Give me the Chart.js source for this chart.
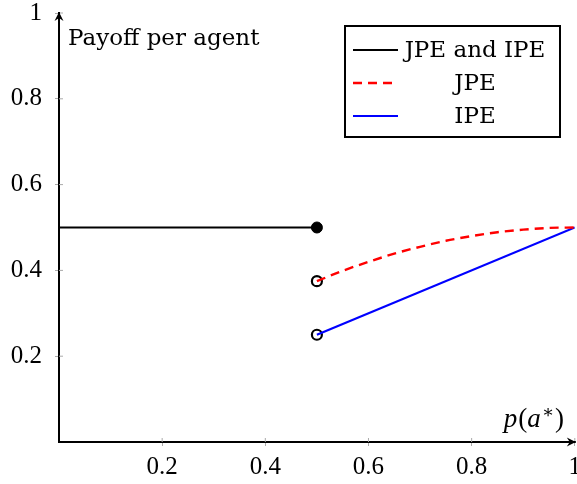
<!DOCTYPE html>
<html>
<head>
<meta charset="utf-8">
<script src="https://cdn.jsdelivr.net/npm/chart.js@4"></script>
<style>
  html, body { margin: 0; background: #fff; overflow: hidden; }
</style>
</head>
<body>
<canvas id="myChart" width="582" height="484"></canvas>
<script>
// data
const bothX = [0, 0.5]
const bothY = [0.5, 0.5]
const jpeX = [0.5, 0.55, 0.6, 0.65, 0.7, 0.75, 0.8, 0.85, 0.9, 0.95, 1]
const jpeY = [0.375, 0.399, 0.42, 0.439, 0.455, 0.469, 0.48, 0.489, 0.495, 0.499, 0.5]
const ipeX = [0.5, 1]
const ipeY = [0.25, 0.5]
const filledDot = [{ x: 0.5, y: 0.5 }]
const openDots = [{ x: 0.5, y: 0.375 }, { x: 0.5, y: 0.25 }]
const xTicks = [0.2, 0.4, 0.6, 0.8, 1]
const yTicks = [0.2, 0.4, 0.6, 0.8, 1]

const legendLabels = ['JPE and IPE', 'JPE', 'IPE']
const yTitle = 'Payoff per agent'

const toPoints = (xs, ys) => xs.map((x, i) => ({ x: x, y: ys[i] }))

const tickFont = { family: 'Liberation Serif', size: 25 }
const textFont = '23px "DejaVu Serif"'

// arrows, axis titles and the boxed legend
const extras = {
  id: 'extras',
  afterDraw(chart) {
    const ctx = chart.ctx
    const a = chart.chartArea
    ctx.save()

    // tick marks crossing into the plot
    ctx.strokeStyle = '#aaa'
    ctx.lineWidth = 1
    xTicks.forEach(v => {
      const px = chart.scales.x.getPixelForValue(v)
      ctx.beginPath()
      ctx.moveTo(px, a.bottom)
      ctx.lineTo(px, a.bottom - 4)
      ctx.stroke()
    })
    yTicks.forEach(v => {
      const py = chart.scales.y.getPixelForValue(v)
      ctx.beginPath()
      ctx.moveTo(a.left, py)
      ctx.lineTo(a.left + 4, py)
      ctx.stroke()
    })
    ctx.fillStyle = '#000'
    ctx.strokeStyle = '#000'
    ctx.lineWidth = 2

    // y axis arrow
    ctx.beginPath()
    ctx.moveTo(a.left, a.top + 2)
    ctx.lineTo(a.left, a.top - 1)
    ctx.stroke()
    ctx.beginPath()
    ctx.moveTo(a.left, a.top - 1)
    ctx.lineTo(a.left - 4.5, a.top + 8)
    ctx.lineTo(a.left, a.top + 5)
    ctx.lineTo(a.left + 4.5, a.top + 8)
    ctx.closePath()
    ctx.fill()

    // x axis arrow
    ctx.beginPath()
    ctx.moveTo(a.right - 2, a.bottom)
    ctx.lineTo(a.right + 1, a.bottom)
    ctx.stroke()
    ctx.beginPath()
    ctx.moveTo(a.right + 1, a.bottom)
    ctx.lineTo(a.right - 8, a.bottom - 4.5)
    ctx.lineTo(a.right - 5, a.bottom)
    ctx.lineTo(a.right - 8, a.bottom + 4.5)
    ctx.closePath()
    ctx.fill()

    // titles
    ctx.font = textFont
    ctx.textAlign = 'left'
    ctx.textBaseline = 'alphabetic'
    ctx.fillText(yTitle, a.left + 9, a.top + 32)

    // p(a*) with raised asterisk
    const base = a.bottom - 15
    let x = a.right - 71
    ctx.font = 'italic 27px "Liberation Serif"'
    ctx.fillText('p', x, base)
    x += ctx.measureText('p').width + 1
    ctx.font = '27px "Liberation Serif"'
    ctx.fillText('(', x, base)
    x += ctx.measureText('(').width
    ctx.font = 'italic 27px "Liberation Serif"'
    ctx.fillText('a', x, base)
    x += ctx.measureText('a').width + 1
    ctx.font = '18px "DejaVu Serif"'
    ctx.fillText('\u2217', x, base - 9)
    x += ctx.measureText('\u2217').width + 1
    ctx.font = '27px "Liberation Serif"'
    ctx.fillText(')', x, base)

    // legend box
    const bx = 345, by = 26, bw = 215, bh = 111
    ctx.lineWidth = 2
    ctx.strokeRect(bx, by, bw, bh)
    const rows = [50, 83, 116]
    chart.data.datasets.slice(0, 3).forEach((ds, i) => {
      ctx.beginPath()
      ctx.strokeStyle = ds.borderColor
      ctx.lineWidth = ds.borderWidth
      ctx.setLineDash(ds.borderDash || [])
      ctx.moveTo(bx + 8, rows[i])
      ctx.lineTo(bx + 53, rows[i])
      ctx.stroke()
      ctx.setLineDash([])
      ctx.fillStyle = '#000'
      ctx.font = textFont
      ctx.textAlign = 'center'
      ctx.textBaseline = 'middle'
      ctx.fillText(legendLabels[i], 475, rows[i] + 1)
    })
    ctx.restore()
  }
}

const ctx = document.getElementById('myChart').getContext('2d')
const myChart = new Chart(ctx, {
  type: 'scatter',
  data: {
    datasets: [
      {
        label: legendLabels[0],
        data: toPoints(bothX, bothY),
        showLine: true,
        borderColor: '#000',
        borderWidth: 2.2,
        pointRadius: 0
      },
      {
        label: legendLabels[1],
        data: toPoints(jpeX, jpeY),
        showLine: true,
        borderColor: '#ff0000',
        borderWidth: 2.4,
        borderDash: [9, 6],
        pointRadius: 0,
        cubicInterpolationMode: 'monotone'
      },
      {
        label: legendLabels[2],
        data: toPoints(ipeX, ipeY),
        showLine: true,
        borderColor: '#0000ff',
        borderWidth: 2.2,
        pointRadius: 0
      },
      {
        label: 'filled',
        data: filledDot,
        pointRadius: 5.5,
        pointBackgroundColor: '#000',
        pointBorderColor: '#000',
        pointBorderWidth: 1
      },
      {
        label: 'open',
        data: openDots,
        pointRadius: 5,
        pointBackgroundColor: '#fff',
        pointBorderColor: '#000',
        pointBorderWidth: 2.2
      }
    ]
  },
  options: {
    responsive: false,
    animation: false,
    layout: { padding: { top: 13, right: 0, left: 0, bottom: 0 } },
    plugins: {
      legend: { display: false },
      tooltip: { enabled: false }
    },
    scales: {
      x: {
        type: 'linear',
        min: 0,
        max: 1,
        afterBuildTicks: axis => {
          axis.ticks = xTicks.map(v => ({ value: v }))
        },
        afterFit: axis => {
          axis.height = 42
          axis.paddingLeft = 0
          axis.paddingRight = 0
        },
        ticks: {
          font: tickFont,
          color: '#000',
          padding: 6,
          maxRotation: 0,
          autoSkip: false,
          callback: v => String(v)
        },
        grid: {
          drawOnChartArea: false,
          tickLength: 4,
          tickColor: '#aaa',
          tickWidth: 1
        },
        border: { color: '#000', width: 2 }
      },
      y: {
        type: 'linear',
        min: 0,
        max: 1,
        afterBuildTicks: axis => {
          axis.ticks = yTicks.map(v => ({ value: v }))
        },
        afterFit: axis => {
          axis.width = 59
          axis.paddingTop = 0
          axis.paddingBottom = 0
        },
        ticks: {
          font: tickFont,
          color: '#000',
          padding: 13,
          autoSkip: false,
          callback: v => String(v)
        },
        grid: {
          drawOnChartArea: false,
          tickLength: 4,
          tickColor: '#aaa',
          tickWidth: 1
        },
        border: { color: '#000', width: 2 }
      }
    }
  },
  plugins: [extras]
})
</script>
</body>
</html>
